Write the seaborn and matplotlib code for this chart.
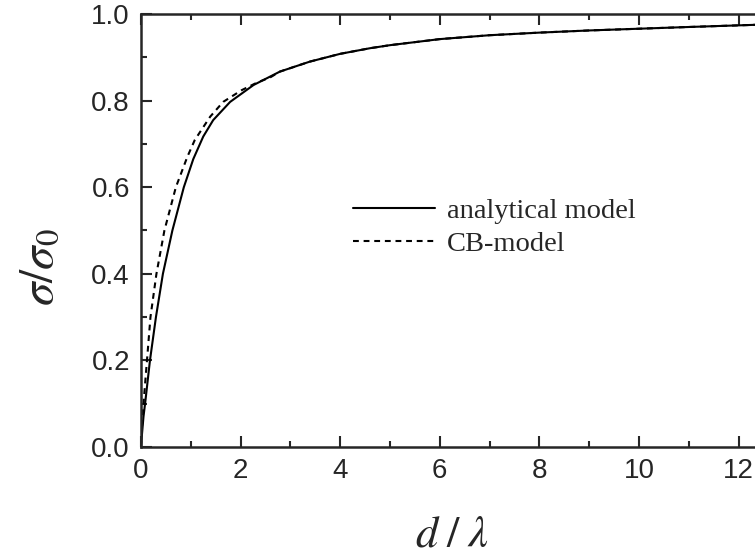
import matplotlib
matplotlib.use("Agg")
import matplotlib.pyplot as plt
import seaborn as sns
import pandas as pd
from matplotlib.ticker import MultipleLocator

# ---- data ----
analytical_x = [0, 0.02, 0.05, 0.09, 0.18, 0.3, 0.44, 0.63, 0.86, 1.05, 1.25, 1.45,
                1.79, 2.26, 2.79, 3.39, 4.0, 4.6, 5.0, 6.0, 7.0, 8.0, 9.0, 10.0, 11.0, 12.33]
analytical_y = [0, 0.03, 0.07, 0.108, 0.2, 0.3, 0.4, 0.5, 0.6, 0.665, 0.717, 0.755,
                0.797, 0.836, 0.867, 0.890, 0.908, 0.921, 0.928, 0.942, 0.951, 0.957,
                0.962, 0.966, 0.970, 0.975]
cb_x = [0, 0.01, 0.05, 0.12, 0.19, 0.31, 0.47, 0.7, 0.93, 1.08, 1.39, 1.65, 2.02,
        2.32, 2.6, 2.79, 3.39, 4.0, 4.6, 5.0, 6.0, 7.0, 8.0, 9.0, 10.0, 11.0, 12.33]
cb_y = [0, 0.03, 0.1, 0.2, 0.3, 0.4, 0.5, 0.6, 0.67, 0.709, 0.763, 0.797, 0.824,
        0.841, 0.854, 0.867, 0.890, 0.908, 0.921, 0.928, 0.942, 0.951, 0.957,
        0.962, 0.966, 0.970, 0.975]
series_labels = ["analytical model", "CB-model"]
x_ticks = [0, 2, 4, 6, 8, 10, 12]
y_ticks = [0.0, 0.2, 0.4, 0.6, 0.8, 1.0]

df = pd.concat([
    pd.DataFrame({"x": analytical_x, "y": analytical_y, "model": series_labels[0]}),
    pd.DataFrame({"x": cb_x, "y": cb_y, "model": series_labels[1]}),
], ignore_index=True)

sns.set_style("ticks")
plt.rcParams["font.family"] = ["Liberation Sans", "DejaVu Sans"]
plt.rcParams["mathtext.fontset"] = "stix"

W, H = 755, 556
fig = plt.figure(figsize=(W / 100, H / 100), dpi=100)
ax_l, ax_r, ax_t, ax_b = 141, 755, 14, 447
ax = fig.add_axes([ax_l / W, 1 - ax_b / H, (ax_r - ax_l) / W, (ax_b - ax_t) / H])

sns.lineplot(data=df, x="x", y="y", style="model", hue="model",
             palette={series_labels[0]: "black", series_labels[1]: "black"},
             dashes={series_labels[0]: "", series_labels[1]: (2.8, 2.3)},
             linewidth=1.5, ax=ax, sort=False, estimator=None)

ax.set_xlim(0, 12.33)
ax.set_ylim(0, 1.0)
ax.set_xticks(x_ticks)
ax.set_yticks(y_ticks)
ax.set_xticklabels([str(v) for v in x_ticks])
ax.set_yticklabels([f"{v:.1f}" for v in y_ticks])
ax.xaxis.set_minor_locator(MultipleLocator(1))
ax.yaxis.set_minor_locator(MultipleLocator(0.1))
ax.tick_params(which="both", direction="in", top=True, right=False, width=1.5,
               labelsize=20, pad=8)
ax.tick_params(which="major", length=8)
ax.tick_params(which="minor", length=4)
for s in ["left", "bottom", "top"]:
    ax.spines[s].set_linewidth(1.8)
ax.spines["right"].set_visible(False)

ax.set_xlabel(r"$d\;/\;\lambda$", fontsize=32)
ax.set_ylabel(r"$\sigma/\sigma_0$", fontsize=34)
ax.xaxis.set_label_coords(0.506, -0.155)
ax.yaxis.set_label_coords(-0.128, 0.416)

leg = ax.legend(loc="center left", bbox_to_anchor=(0.345, 0.506), frameon=False,
                prop={"family": "Liberation Serif", "size": 20.5},
                handlelength=2.9, handletextpad=0.42, labelspacing=0.25,
                borderpad=0, borderaxespad=0)
for line in leg.get_lines():
    line.set_linewidth(1.5)

fig.savefig("out.png", dpi=100)
